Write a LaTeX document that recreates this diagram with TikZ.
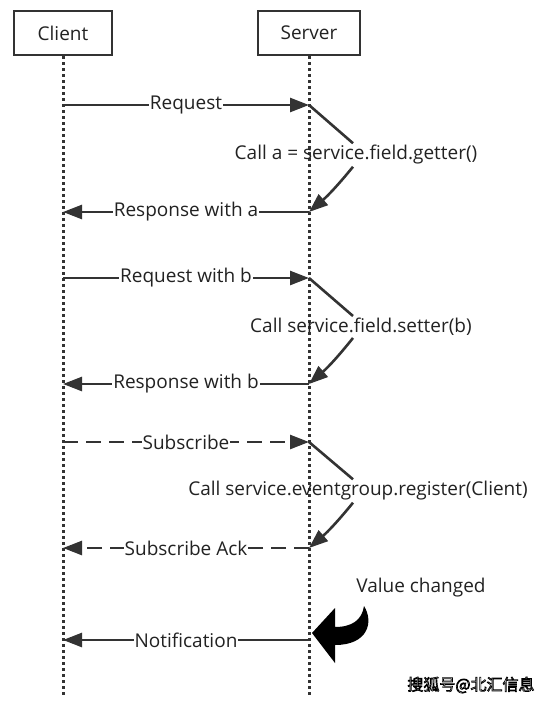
\documentclass[tikz,border=0pt]{standalone}
\usepackage{fontspec}
\setmainfont{Open Sans}
\newfontfamily\cjkfont{Noto Sans CJK SC}
\usetikzlibrary{arrows.meta,positioning,calc}
\definecolor{lineg}{HTML}{333333}
\definecolor{textg}{HTML}{222222}

\begin{document}
\begin{tikzpicture}[x=1pt, y=-1pt,
  actor/.style={draw=lineg, line width=2.8pt, minimum height=44pt, text=textg,
                font=\fontsize{19}{22}\selectfont},
  life/.style={draw=lineg, line width=3pt, dash pattern=on 3pt off 3pt},
  plain/.style={draw=lineg, line width=2.6pt},
  msg/.style={plain, -{Triangle[length=19pt,width=14pt]}},
  async/.style={msg, dash pattern=on 15pt off 8pt},
  lbl/.style={fill=white, inner sep=1pt, text=textg, font=\fontsize{19}{22}\selectfont},
  calltxt/.style={inner sep=2pt, text=textg, font=\fontsize{19}{22}\selectfont}
]
  \useasboundingbox (0,0) rectangle (547,702);

  % actors and lifelines
  \node[actor, minimum width=98pt] (client) at (63,33) {Client};
  \node[actor, minimum width=102pt] (server) at (309,33) {Server};
  \coordinate (cend) at (63,695);
  \coordinate (send) at (309,695);
  \draw[life] (client.south) -- (cend);
  \draw[life] (server.south) -- (send);

  \foreach \n/\y in {1/105,2/212,3/278,4/384,5/442,6/548,7/640} {
    \coordinate (c\n) at (63,\y);
    \coordinate (s\n) at (309,\y);
  }

  % getter
  \draw[msg] (c1) -- node[lbl] {Request} (s1);
  \node[calltxt] (call1) at (356,155) {Call a = service.field.getter()};
  \draw[plain] (s1) -- ([xshift=-3pt]call1.north);
  \draw[msg] ([xshift=-3pt]call1.south) to[bend left=5] (s2);
  \draw[msg] (s2) -- node[lbl] {Response with a} (c2);

  % setter
  \draw[msg] (c3) -- node[lbl] {Request with b} (s3);
  \node[calltxt] (call2) at (361,327) {Call service.field.setter(b)};
  \draw[plain] (s3) -- ([xshift=-8pt]call2.north);
  \draw[msg] ([xshift=-8pt]call2.south) to[bend left=5] (s4);
  \draw[msg] (s4) -- node[lbl] {Response with b} (c4);

  % subscribe
  \draw[async] (c5) -- node[lbl] {Subscribe} (s5);
  \node[calltxt] (call3) at (358,491) {Call service.eventgroup.register(Client)};
  \draw[plain] (s5) -- ([xshift=-5pt]call3.north);
  \draw[msg] ([xshift=-5pt]call3.south) to[bend left=5] (s6);
  \draw[async] (s6) -- node[lbl] {Subscribe Ack} (c6);

  % notification
  \node[calltxt] (vc) at (421,588) {Value changed};
  \fill[black] (312,633) -- (335,608) -- (335,627)
    .. controls (352,627) and (362,620) .. (364,606)
    .. controls (374,622) and (368,645) .. (335,645) -- (335,663) -- cycle;
  \draw[msg] (s7) -- node[lbl] {Notification} (c7);

  % watermark (outlined text)
  \node[inner sep=0pt, font=\cjkfont\fontsize{16}{18}\selectfont]
    (wm) at (471,685) {\special{pdf:literal direct 1 Tr 0.7 w 0 G}搜狐号@北汇信息\special{pdf:literal direct 0 Tr}};
\end{tikzpicture}
\end{document}
